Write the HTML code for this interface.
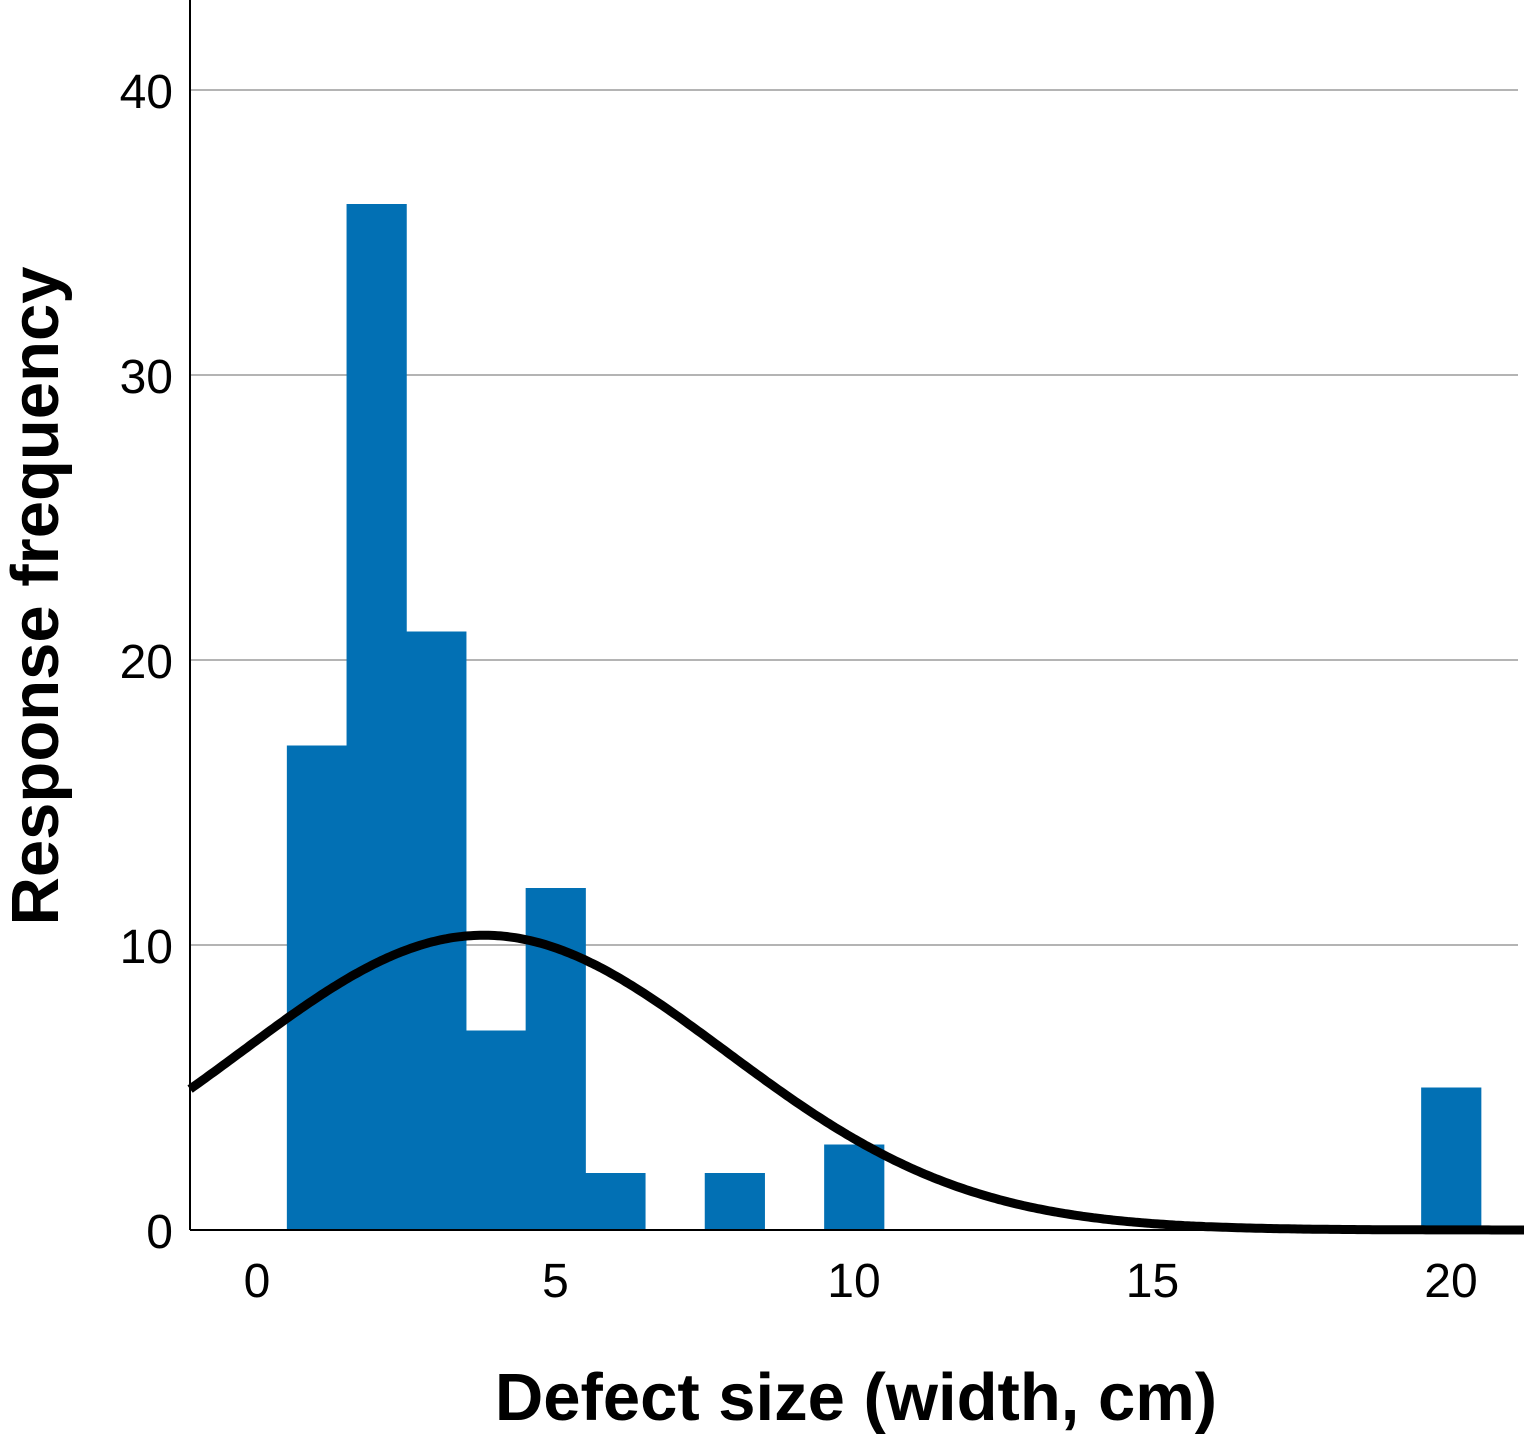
<!DOCTYPE html>
<html><head><meta charset="utf-8"><style>
html,body{margin:0;padding:0;background:#fff;}
svg{display:block;font-family:"Liberation Sans",Arial,sans-serif;}
</style></head><body>
<svg id="chart" width="1524" height="1438" viewBox="0 0 1524 1438"></svg>
<script>
const binCenters=[1,2,3,4,5,6,8,10,20];
const binCounts=[17,36,21,7,12,2,2,3,5];
const yTicks=[0,10,20,30,40];
const xTicks=[0,5,10,15,20];
const curveMean=3.8;
const curveSd=4.05;
const curveN=105;
const binWidth=1;

const svg=document.getElementById('chart');
const NS='http://www.w3.org/2000/svg';
const X0=190,X1=1518,Y0=1230;
const xs=v=>257+v*59.7;
const ys=v=>Y0-v*28.5;
function mk(tag,attrs,parent){const e=document.createElementNS(NS,tag);for(const k in attrs)e.setAttribute(k,attrs[k]);(parent||svg).appendChild(e);return e;}

yTicks.forEach(t=>{
  if(t>0){const g=mk('line',{x1:X0,x2:X1,y1:ys(t),y2:ys(t),stroke:'#b4b4b4','stroke-width':2});
  
  }
  const l=mk('text',{x:173,y:ys(t)+18,'text-anchor':'end','font-size':48,fill:'#000'});
  l.textContent=t;
  
  
});
binCenters.forEach((c,i)=>{
  const r=mk('rect',{x:xs(c-binWidth/2),y:ys(binCounts[i]),width:xs(c+binWidth/2)-xs(c-binWidth/2)+0.5,height:Y0-ys(binCounts[i]),fill:'#0270b4'});
  
  
});
let d='';
for(let v=-1.12;v<=21.4;v+=0.05){
  const y=curveN*binWidth/(curveSd*Math.sqrt(2*Math.PI))*Math.exp(-((v-curveMean)**2)/(2*curveSd*curveSd));
  d+=(d?'L':'M')+xs(v).toFixed(1)+' '+ys(y).toFixed(1);
}
const p=mk('path',{d:d,fill:'none',stroke:'#000','stroke-width':9});


const ya=mk('line',{x1:X0,x2:X0,y1:0,y2:Y0,stroke:'#000','stroke-width':2});


const xa=mk('line',{x1:X0,x2:X1,y1:Y0,y2:Y0,stroke:'#000','stroke-width':2});


xTicks.forEach(t=>{
  const l=mk('text',{x:xs(t),y:1297,'text-anchor':'middle','font-size':48,fill:'#000'});
  l.textContent=t;
  
  
});
const xt=mk('text',{x:856,y:1420,'text-anchor':'middle','font-size':67,'font-weight':'bold',fill:'#000'});
xt.textContent='Defect size (width, cm)';


const yt=mk('text',{x:0,y:0,'text-anchor':'middle','font-size':67,'font-weight':'bold',fill:'#000',transform:'translate(58,596) rotate(-90)'});
yt.textContent='Response frequency';


</script>
</body></html>
